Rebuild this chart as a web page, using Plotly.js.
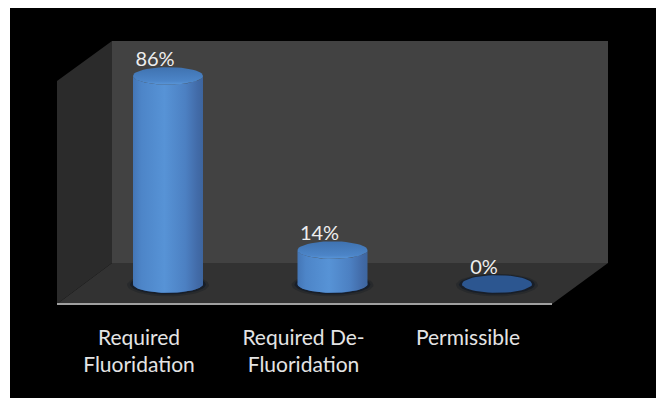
<!DOCTYPE html>
<html>
<head>
<meta charset="utf-8">
<script src="https://cdn.plot.ly/plotly-3.0.1.min.js"></script>
<style>html,body{margin:0;padding:0;background:#fff}#chart{width:656px;height:398px}</style>
</head>
<body>
<div id="chart"></div>
<script>
// Share of samples by treatment requirement
const categories = ['Required<br>Fluoridation', 'Required De-<br>Fluoridation', 'Permissible'];
const shares = [86, 14, 0];

// Figure layout in pixels
const W = 656, H = 398, LEFT = 10, TOP = 8;
const PX_PER_CAT = 164.5, PX_PER_PCT = 2.42;
const X0 = 168, Y0 = 284;           // screen position of the first cylinder's base centre
const RX = 35, RY = 8.8;            // cylinder cross-section radii

// Axis ranges keep data units proportional to screen pixels
const xRange = [(LEFT - X0) / PX_PER_CAT, (W - X0) / PX_PER_CAT];
const yRange = [(Y0 - H) / PX_PER_PCT, (Y0 - TOP) / PX_PER_PCT];
const fromPxX = px => (px - X0) / PX_PER_CAT;
const fromPxY = px => (Y0 - px) / PX_PER_PCT;

// Closed polygon for the 3D chart box, given in screen pixels
function panel(name, pts, fill) {
  return {
    name, type: 'scatter', mode: 'lines', fill: 'toself', fillcolor: fill,
    line: {width: 0}, hoverinfo: 'skip', showlegend: false,
    x: pts.map(p => fromPxX(p[0])), y: pts.map(p => fromPxY(p[1]))
  };
}

function arc(i, level, from, to, rx, ry) {
  const xs = [], ys = [];
  for (let k = 0; k <= 48; k++) {
    const t = from + (to - from) * k / 48;
    xs.push(i + rx * Math.cos(t) / PX_PER_CAT);
    ys.push(level + ry * Math.sin(t) / PX_PER_PCT);
  }
  return {xs, ys};
}

function ellipse(name, i, level, rx, ry, style) {
  const a = arc(i, level, 0, 2 * Math.PI, rx, ry);
  return Object.assign({
    name, type: 'scatter', mode: 'lines', fill: 'toself',
    line: {width: 0}, hoverinfo: 'skip', showlegend: false, x: a.xs, y: a.ys
  }, style);
}

// Side of a cylinder: front half of the base, then straight up and across the top
function cylinderBody(i, value) {
  const base = arc(i, 0, Math.PI, 2 * Math.PI, RX, RY);
  const top = arc(i, value, 0, Math.PI, RX, -RY);
  return {
    name: 'side ' + i, type: 'scatter', mode: 'lines', fill: 'toself',
    line: {width: 0}, hoverinfo: 'skip', showlegend: false,
    x: base.xs.concat(top.xs), y: base.ys.concat(top.ys),
    fillgradient: {
      type: 'horizontal',
      colorscale: [[0, '#4476b6'], [0.12, '#4d85c8'], [0.45, '#5793d6'],
                   [0.75, '#4c80c2'], [0.92, '#426ba8'], [1, '#3d659e']]
    }
  };
}

const traces = [
  panel('back wall', [[112, 41], [608, 41], [608, 263], [112, 263]], '#424242'),
  panel('side wall', [[57, 81], [112, 41], [112, 263], [57, 304]], '#2b2b2b'),
  panel('floor', [[57, 304], [112, 263], [608, 263], [552, 304]], '#323232')
];

shares.forEach((value, i) => {
  traces.push(ellipse('outer shadow ' + i, i, -0.4, RX + 6, RY + 2.5, {fillcolor: 'rgba(24,28,34,0.35)'}));
  traces.push(ellipse('inner shadow ' + i, i, -0.2, RX + 3, RY + 1.2, {fillcolor: 'rgba(14,24,38,0.6)'}));
  traces.push(ellipse('base ' + i, i, 0, RX, RY, {fillcolor: '#2c5690'}));
  if (value > 0) {
    traces.push(cylinderBody(i, value));
    traces.push(ellipse('top ' + i, i, value, RX, RY, {
      fillgradient: {
        type: 'vertical',
        colorscale: [[0, '#5a97da'], [0.2, '#4c85c8'], [1, '#3f72b0']]
      }
    }));
  }
});

// Percentage labels float just above each cylinder, a little to the left
traces.push({
  name: 'share labels', type: 'scatter', mode: 'text', hoverinfo: 'skip', showlegend: false,
  x: shares.map((v, i) => i - 13 / PX_PER_CAT),
  y: shares.map(v => v + 15 / PX_PER_PCT),
  text: shares.map(v => v + '%'),
  textposition: 'middle center',
  textfont: {family: 'Lato, Carlito, sans-serif', size: 20, color: '#eeeeee'}
});

// Front edge of the floor
const edge = panel('floor edge', [[57, 304], [552, 304]], 'rgba(0,0,0,0)');
edge.fill = 'none';
edge.line = {width: 2, color: '#a0a0a0'};
traces.push(edge);

const layout = {
  width: W, height: H,
  margin: {l: LEFT, r: 0, t: TOP, b: 0},
  paper_bgcolor: '#ffffff', plot_bgcolor: '#000000',
  showlegend: false,
  xaxis: {
    range: xRange, anchor: 'free', position: (H - 323) / (H - TOP),
    tickmode: 'array',
    tickvals: categories.map((c, i) => i - 29 / PX_PER_CAT),
    ticktext: categories,
    tickangle: 0,
    ticks: '', showline: false, showgrid: false, zeroline: false,
    tickfont: {family: 'Lato, Carlito, sans-serif', size: 21, color: '#e4e4e4'}
  },
  yaxis: {range: yRange, visible: false, showgrid: false, zeroline: false}
};

Plotly.newPlot('chart', traces, layout, {displayModeBar: false, staticPlot: true});
</script>
</body>
</html>
